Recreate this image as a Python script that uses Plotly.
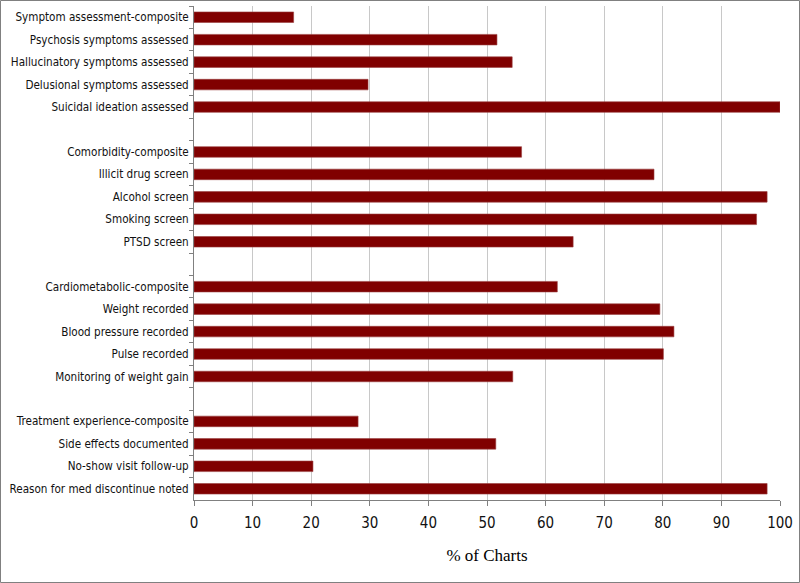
import plotly.graph_objects as go

categories = [
    "Symptom assessment-composite",
    "Psychosis symptoms assessed",
    "Hallucinatory symptoms assessed",
    "Delusional symptoms assessed",
    "Suicidal ideation assessed",
    " ",
    "Comorbidity-composite",
    "Illicit drug screen",
    "Alcohol screen",
    "Smoking screen",
    "PTSD screen",
    "  ",
    "Cardiometabolic-composite",
    "Weight recorded",
    "Blood pressure recorded",
    "Pulse recorded",
    "Monitoring of weight gain",
    "   ",
    "Treatment experience-composite",
    "Side effects documented",
    "No-show visit follow-up",
    "Reason for med discontinue noted",
]
values = [
    17.0, 51.7, 54.3, 29.7, 100.0,
    None,
    55.9, 78.5, 97.8, 96.0, 64.7,
    None,
    62.0, 79.5, 81.9, 80.1, 54.4,
    None,
    28.0, 51.5, 20.3, 97.8,
]
x_ticks = list(range(0, 101, 10))

W, H = 800, 583
L, R, T, B = 194, 20, 6, 83
pw, ph = W - L - R, H - T - B

SANS = "DejaVu Sans Condensed, Liberation Sans Narrow, Arial Narrow, Liberation Sans, sans-serif"

fig = go.Figure(go.Bar(
    y=categories, x=values, orientation="h",
    marker=dict(color="#800000", line=dict(color="#9a4040", width=0.6)),
    width=0.47,
))

fig.update_layout(
    width=W, height=H,
    margin=dict(l=L, r=R, t=T, b=B),
    paper_bgcolor="white", plot_bgcolor="white",
    showlegend=False,
    font=dict(family=SANS, color="black"),
)
fig.update_yaxes(
    type="category", categoryorder="array", categoryarray=categories,
    autorange="reversed", automargin=False,
    tickson="boundaries", ticks="outside", ticklen=4, tickcolor="#808080",
    showline=True, linecolor="#808080", linewidth=1,
    showgrid=False,
    tickfont=dict(size=11.6, family=SANS, color="#111111"),
    ticklabelstandoff=2,
)
fig.update_xaxes(
    range=[0, 100], tickvals=x_ticks, ticktext=[str(v) for v in x_ticks],
    automargin=False,
    ticks="outside", ticklen=5, tickcolor="#808080",
    showline=True, linecolor="#808080", linewidth=1,
    showgrid=True, gridcolor="#c8c8c8", gridwidth=1,
    zeroline=False,
    tickfont=dict(size=15, family=SANS, color="#111111"),
    ticklabelstandoff=4,
    title=dict(text="% of Charts", font=dict(size=17, family="Liberation Serif, Times New Roman, serif"), standoff=18),
)
fig.add_shape(
    type="rect", xref="paper", yref="paper",
    x0=(0.5 - L) / pw, x1=(W - 0.5 - L) / pw,
    y0=-(B - 0.5) / ph, y1=(ph + T - 0.5) / ph,
    line=dict(color="#808080", width=1), fillcolor="rgba(0,0,0,0)", layer="above",
)

fig.write_html(
    "out.html",
    config={"displayModeBar": False},
    post_script="document.body.style.margin='0';document.body.style.overflow='hidden';",
)
